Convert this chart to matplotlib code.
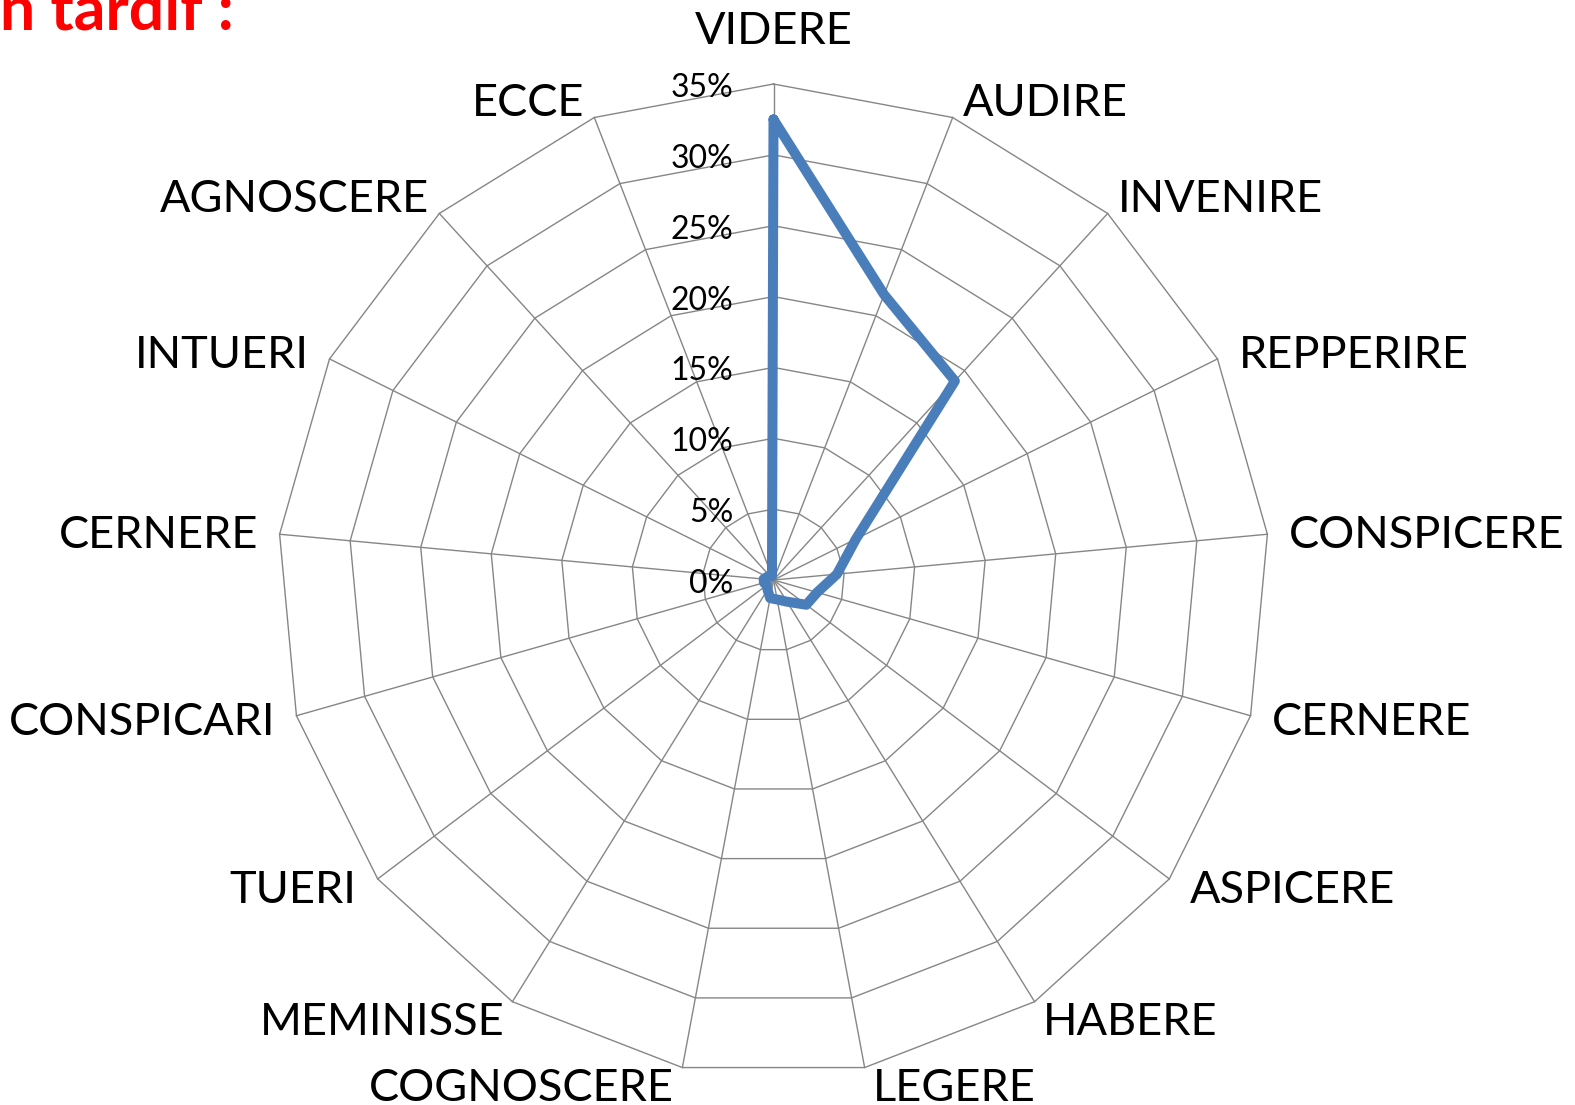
import numpy as np
import matplotlib
matplotlib.use("Agg")
import matplotlib.pyplot as plt
import matplotlib.transforms as mtransforms

# ---- data ----
categories = ["VIDERE", "AUDIRE", "INVENIRE", "REPPERIRE", "CONSPICERE", "CERNERE",
              "ASPICERE", "HABERE", "LEGERE", "COGNOSCERE", "MEMINISSE", "TUERI",
              "CONSPICARI", "CERNERE", "INTUERI", "AGNOSCERE", "ECCE"]
values = [32.5, 21.6, 19.0, 6.5, 4.5, 3.2, 2.9, 1.8, 1.4, 1.3, 0.8, 0.6,
          0.7, 0.7, 0.5, 0.4, 0.3]
ring_levels = [0, 5, 10, 15, 20, 25, 30, 35]
ring_labels = ["0%", "5%", "10%", "15%", "20%", "25%", "30%", "35%"]
title_text = "n tardif :"

plt.rcParams['font.family'] = ['Lato', 'DejaVu Sans']

W, H = 1575, 1105
fig = plt.figure(figsize=(W / 100, H / 100), dpi=100)
fig.patch.set_facecolor("white")

cx, cy, R = 773.5, 580.0, 496.0
ax = fig.add_axes([(cx - R) / W, (H - cy - R) / H, 2 * R / W, 2 * R / H], projection="polar")
ax.set_theta_zero_location("N")
ax.set_theta_direction(-1)
ax.set_ylim(0, ring_levels[-1])
ax.set_xticks([])
ax.set_yticks([])
ax.grid(False)
ax.spines["polar"].set_visible(False)
ax.patch.set_visible(False)

n = len(categories)
theta = np.arange(n) * 2 * np.pi / n
theta_closed = np.append(theta, theta[0])

grid_color = "#868686"
# rings
for lvl in ring_levels[1:]:
    ax.plot(theta_closed, [lvl] * (n + 1), color=grid_color, lw=1.0, clip_on=False, zorder=1)
# spokes
for t in theta:
    ax.plot([t, t], [0, ring_levels[-1]], color=grid_color, lw=1.0, clip_on=False, zorder=1)

# data line
vals_closed = values + values[:1]
ax.plot(theta_closed, vals_closed, color="#4A7EBB", lw=7.2, solid_joinstyle="round",
        solid_capstyle="round", clip_on=False, zorder=3)

# radial tick labels
off = mtransforms.offset_copy(ax.transData, fig=fig, x=-40, y=-4, units="dots")
for lvl, lab in zip(ring_levels, ring_labels):
    ax.text(0, lvl, lab, transform=off, ha="right", va="center", fontsize=23,
            color="black", zorder=4)

# category labels
for t, lab in zip(theta, categories):
    s, c = np.sin(t), np.cos(t)
    if abs(s) < 0.1 and c > 0:
        ha, va, dx, dy = "center", "baseline", 0, 40
    elif c > 0.6:
        ha = "left" if s > 0 else "right"
        va, dx, dy = "baseline", 10 * np.sign(s), 1
    elif c < -0.7:
        ha = "left" if s > 0 else "right"
        va, dx, dy = "top", 8 * np.sign(s), 0
    else:
        ha = "left" if s > 0 else "right"
        va, dx, dy = "center", 21 * np.sign(s), 14 * c - 3
    ax.annotate(lab, xy=(t, ring_levels[-1]), xytext=(dx, dy), textcoords="offset pixels",
                ha=ha, va=va, fontsize=32.5, color="black", annotation_clip=False)

# title fragment (cut at top)
fig.text(0.0, 1 - 30 / H, title_text, ha="left", va="baseline", fontsize=45,
         fontweight="bold", color="#FF0000")

fig.savefig("out.png", dpi=100, facecolor="white")
